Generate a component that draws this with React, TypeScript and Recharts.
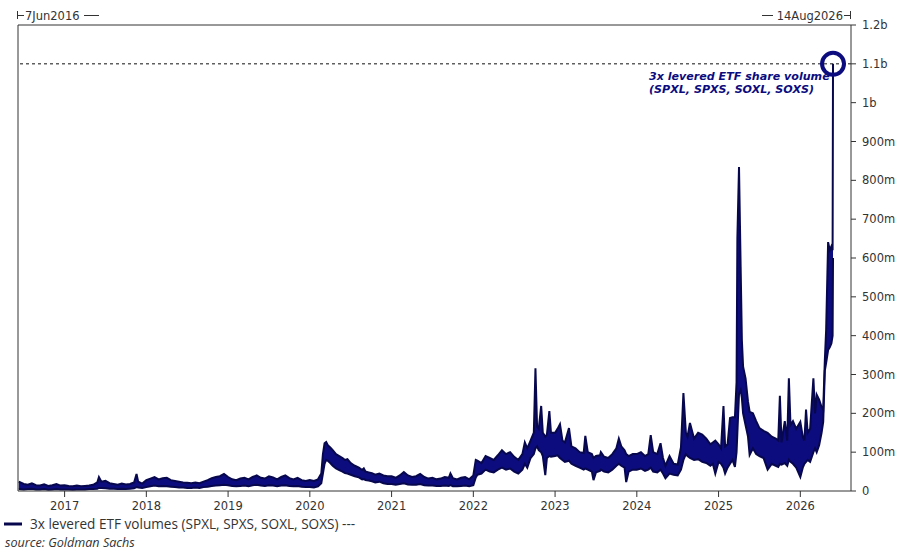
import React from 'react';
import { ComposedChart, Area, XAxis, YAxis, ReferenceLine, ReferenceDot } from 'recharts';

const NAVY = '#0c0c7e';
const EDGE = '#07074e';
const INK = '#333333';
const FONT = '"DejaVu Sans", Verdana, sans-serif';
const LEGEND_FONT = '"Open Sans", "Noto Sans", sans-serif';

const startDate = 2016.43;
const endDate = 2026.62;
const startLabel = '7Jun2016';
const endLabel = '14Aug2026';
const yearTicks = [2017, 2018, 2019, 2020, 2021, 2022, 2023, 2024, 2025, 2026];
const volumeTicks = [0, 100, 200, 300, 400, 500, 600, 700, 800, 900, 1000, 1100, 1200];
const peakDate = 2026.4;
const peakVolume = 1100;
const seriesName = '3x levered ETF volumes (SPXL, SPXS, SOXL, SOXS) ---';
const annotationLines = ['3x levered ETF share volume', '(SPXL, SPXS, SOXL, SOXS)'];
const sourceText = 'source: Goldman Sachs';

// dates (decimal years)
const dates = [
  2016.44, 2016.5, 2016.55, 2016.6, 2016.65, 2016.7, 2016.75, 2016.8, 2016.85, 2016.9, 2016.95,
  2017, 2017.05, 2017.1, 2017.15, 2017.2, 2017.25, 2017.3, 2017.35, 2017.4, 2017.42, 2017.45, 2017.5, 2017.55, 2017.6, 2017.65, 2017.7, 2017.75, 2017.8, 2017.85, 2017.88, 2017.9, 2017.95,
  2018, 2018.05, 2018.1, 2018.15, 2018.2, 2018.25, 2018.3, 2018.35, 2018.4, 2018.45, 2018.5, 2018.55, 2018.6, 2018.65, 2018.7, 2018.75, 2018.8, 2018.85, 2018.9, 2018.95,
  2019, 2019.05, 2019.1, 2019.15, 2019.2, 2019.25, 2019.3, 2019.35, 2019.4, 2019.45, 2019.5, 2019.55, 2019.6, 2019.65, 2019.7, 2019.75, 2019.8, 2019.85, 2019.9, 2019.95,
  2020, 2020.05, 2020.1, 2020.14, 2020.16, 2020.18, 2020.2, 2020.22, 2020.25, 2020.28, 2020.32, 2020.36, 2020.4, 2020.43, 2020.46, 2020.5, 2020.55, 2020.6, 2020.64, 2020.66, 2020.68, 2020.72, 2020.76, 2020.8, 2020.85, 2020.9, 2020.95,
  2021, 2021.05, 2021.1, 2021.15, 2021.2, 2021.25, 2021.3, 2021.35, 2021.4, 2021.45, 2021.5, 2021.55, 2021.6, 2021.65, 2021.7, 2021.72, 2021.75, 2021.8, 2021.85, 2021.9, 2021.95,
  2022, 2022.03, 2022.05, 2022.1, 2022.15, 2022.2, 2022.25, 2022.3, 2022.35, 2022.4, 2022.45, 2022.5, 2022.55, 2022.6, 2022.63, 2022.66, 2022.7, 2022.74, 2022.76, 2022.78, 2022.8, 2022.83, 2022.85, 2022.88, 2022.9, 2022.93, 2022.95,
  2023, 2023.03, 2023.06, 2023.09, 2023.12, 2023.17, 2023.2, 2023.25, 2023.3, 2023.35, 2023.37, 2023.4, 2023.45, 2023.47, 2023.5, 2023.55, 2023.56, 2023.6, 2023.65, 2023.7, 2023.75, 2023.78, 2023.81, 2023.85, 2023.87, 2023.9, 2023.95,
  2024, 2024.05, 2024.1, 2024.14, 2024.17, 2024.2, 2024.25, 2024.29, 2024.32, 2024.35, 2024.4, 2024.45, 2024.5, 2024.54, 2024.57, 2024.6, 2024.62, 2024.65, 2024.7, 2024.75, 2024.8, 2024.85, 2024.9, 2024.93, 2024.96,
  2025, 2025.03, 2025.06, 2025.08, 2025.11, 2025.14, 2025.17, 2025.2, 2025.22, 2025.23, 2025.25, 2025.27, 2025.285, 2025.3, 2025.33, 2025.36, 2025.38, 2025.42, 2025.46, 2025.5, 2025.55, 2025.6, 2025.65, 2025.7, 2025.73, 2025.75, 2025.77, 2025.81, 2025.84, 2025.86, 2025.88, 2025.91, 2025.95,
  2026, 2026.03, 2026.05, 2026.07, 2026.09, 2026.12, 2026.16, 2026.18, 2026.2, 2026.23, 2026.26, 2026.28, 2026.3, 2026.316, 2026.34, 2026.36, 2026.38, 2026.395, 2026.4,
];

// daily-range high (millions of shares)
const highVolM = [
  24, 18, 16, 20, 15, 14, 17, 13, 15, 18, 14,
  15, 13, 12, 14, 12, 13, 14, 16, 22, 36, 24, 26, 20, 18, 16, 19, 17, 18, 22, 44, 24, 19,
  28, 32, 36, 30, 33, 34, 28, 26, 24, 22, 21, 20, 22, 20, 24, 28, 33, 36, 38, 44,
  36, 30, 28, 32, 34, 30, 36, 40, 34, 32, 38, 35, 30, 36, 40, 33, 30, 34, 28, 26,
  28, 26, 30, 45, 95, 123, 126, 118, 112, 105, 95, 90, 85, 80, 82, 72, 65, 60, 54, 58, 50, 48, 46, 42, 45, 40, 38,
  38, 34, 40, 49, 40, 36, 38, 44, 36, 32, 34, 30, 32, 36, 34, 45, 33, 30, 34, 36, 30,
  40, 80, 78, 72, 90, 85, 80, 92, 105, 95, 100, 88, 80, 95, 125, 110, 130, 150, 316, 165, 160, 219, 150, 140, 145, 206, 150,
  150, 160, 172, 130, 125, 162, 115, 110, 100, 98, 142, 100, 95, 85, 90, 92, 100, 88, 85, 95, 110, 135, 115, 105, 95, 90, 95,
  95, 100, 90, 95, 144, 100, 95, 123, 85, 65, 90, 70, 68, 113, 252, 150, 140, 175, 135, 150, 145, 135, 120, 125, 130,
  120, 110, 219, 115, 120, 188, 190, 190, 280, 651, 834, 577, 389, 320, 290, 230, 204, 200, 180, 162, 155, 150, 140, 135, 130, 245, 125, 180, 130, 290, 170, 180, 160,
  178, 140, 130, 210, 150, 160, 290, 200, 248, 235, 216, 210, 337, 415, 641, 620, 630, 620, 1100,
];

// daily-range low (millions of shares)
const lowVolM = [
  5, 4, 5, 6, 4, 4, 5, 3, 4, 5, 4,
  4, 4, 3, 4, 4, 4, 5, 5, 6, 8, 8, 7, 6, 6, 5, 6, 5, 6, 7, 10, 9, 8,
  10, 12, 14, 12, 13, 12, 11, 10, 9, 9, 8, 8, 9, 8, 10, 11, 13, 14, 15, 16,
  15, 13, 12, 13, 14, 12, 15, 16, 14, 13, 15, 14, 12, 14, 15, 13, 12, 13, 11, 10,
  10, 9, 12, 20, 45, 70, 80, 78, 72, 65, 58, 54, 50, 46, 45, 42, 38, 35, 30, 31, 28, 27, 25, 22, 24, 20, 18,
  18, 16, 18, 20, 17, 16, 16, 18, 15, 14, 14, 13, 13, 14, 13, 15, 12, 12, 13, 14, 12,
  15, 35, 42, 45, 55, 50, 48, 55, 60, 55, 58, 50, 45, 55, 70, 60, 85, 95, 110, 115, 105, 100, 90, 41, 85, 90, 88,
  90, 92, 85, 80, 75, 78, 70, 65, 60, 55, 58, 55, 50, 28, 48, 52, 55, 50, 48, 55, 65, 70, 65, 60, 23, 50, 55,
  55, 58, 52, 55, 60, 50, 48, 55, 45, 33, 45, 42, 40, 55, 80, 95, 90, 85, 80, 82, 75, 72, 65, 70, 45,
  75, 70, 60, 45, 60, 70, 80, 62, 100, 150, 250, 260, 240, 200, 170, 140, 93, 110, 95, 90, 85, 55, 70, 65, 62, 70, 68, 72, 65, 80, 75, 70, 60,
  36, 60, 70, 75, 80, 75, 100, 110, 100, 118, 150, 178, 310, 330, 363, 370, 380, 400, 600,
];

const rows = dates.map((t, i) => ({ t, range: [lowVolM[i], highVolM[i]] }));

const fmtVolume = (v: number) => (v === 0 ? '0' : v < 1000 ? `${v}m` : `${v / 1000}b`);

export default function App() {
  const tickStyle = { fill: INK, fontSize: 11.5, fontFamily: FONT };
  return (
    <div style={{ position: 'absolute', left: 0, top: 0, width: 900, height: 553, background: '#fff', fontFamily: FONT }}>
      <ComposedChart width={900} height={553} data={rows} margin={{ top: 25, right: 0, bottom: 0, left: 18 }}>
        <XAxis
          dataKey="t"
          type="number"
          domain={[startDate, endDate]}
          ticks={yearTicks}
          interval={0}
          allowDataOverflow
          height={62}
          tickSize={6}
          tickMargin={5}
          tick={tickStyle}
          stroke={INK}
          tickFormatter={(v: number) => String(v)}
        />
        <YAxis
          orientation="right"
          type="number"
          domain={[0, 1200]}
          ticks={volumeTicks}
          interval={0}
          width={49}
          tickSize={5}
          tickMargin={6}
          tick={tickStyle}
          stroke={INK}
          tickFormatter={fmtVolume}
        />
        <ReferenceLine y={1200} stroke={INK} strokeWidth={1} />
        <ReferenceLine x={startDate} stroke={INK} strokeWidth={1} />
        <ReferenceLine y={peakVolume} stroke="#111" strokeWidth={1} strokeDasharray="3 3" />
        <Area
          dataKey="range"
          type="linear"
          stroke={EDGE}
          strokeWidth={2}
          fill={NAVY}
          fillOpacity={1}
          dot={false}
          activeDot={false}
          isAnimationActive={false}
        />
        <ReferenceDot x={peakDate} y={peakVolume} r={11} fill="none" stroke={NAVY} strokeWidth={4} />
      </ComposedChart>
      <svg width={900} height={553} style={{ position: 'absolute', left: 0, top: 0, pointerEvents: 'none' }}>
        <g stroke={INK} strokeWidth={1}>
          <line x1={17.5} y1={11} x2={17.5} y2={19} />
          <line x1={17.5} y1={15.5} x2={24} y2={15.5} />
          <line x1={84} y1={15.5} x2={99} y2={15.5} />
          <line x1={762} y1={15.5} x2={773} y2={15.5} />
          <line x1={844} y1={15.5} x2={851} y2={15.5} />
          <line x1={850.5} y1={11} x2={850.5} y2={19} />
        </g>
        <text x={25} y={16} dominantBaseline="central" fill={INK} fontSize={11.5} fontFamily={FONT}>{startLabel}</text>
        <text x={843} y={16} dominantBaseline="central" textAnchor="end" fill={INK} fontSize={11.5} fontFamily={FONT}>{endLabel}</text>
        {annotationLines.map((s, i) => (
          <text key={i} x={649} y={76 + i * 13} dominantBaseline="central" fill={NAVY} fontSize={11.1} fontWeight="bold" fontStyle="italic" fontFamily={FONT}>{s}</text>
        ))}
        <line x1={4} y1={524} x2={22} y2={524} stroke={EDGE} strokeWidth={3} />
        <text x={30} y={523.5} dominantBaseline="central" fill={INK} fontSize={13.6} fontFamily={LEGEND_FONT}>{seriesName}</text>
        <text x={5} y={542} dominantBaseline="central" fill={INK} fontSize={12.6} fontStyle="italic" fontFamily={LEGEND_FONT}>{sourceText}</text>
      </svg>
    </div>
  );
}
